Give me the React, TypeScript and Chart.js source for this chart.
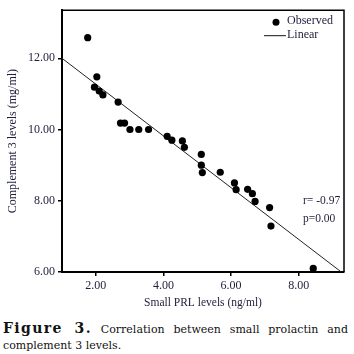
import React, { useEffect, useRef } from 'react';
import { Chart, registerables } from 'chart.js';
Chart.register(...registerables);

// Small PRL levels (ng/ml)
const prlLevels = [1.76, 2.03, 1.96, 2.10, 2.21, 2.66, 2.73, 2.85, 3.01, 3.27, 3.56, 4.11, 4.25, 4.56, 4.62, 5.12, 5.12, 5.15, 5.68, 6.10, 6.15, 6.49, 6.63, 6.71, 7.14, 7.18, 8.43];
// Complement 3 levels (mg/ml)
const c3Levels = [12.58, 11.48, 11.19, 11.08, 10.97, 10.77, 10.18, 10.18, 10.0, 10.0, 10.0, 9.81, 9.70, 9.68, 9.50, 9.30, 9.0, 8.79, 8.80, 8.50, 8.31, 8.32, 8.20, 7.98, 7.81, 7.29, 6.10];
// Linear fit line end points
const fitX = [1.0, 9.26];
const fitY = [12.0, 6.0];
const xTicks = [2, 4, 6, 8];
const yTicks = [6, 8, 10, 12];
const statsText = ['r= -0.97', 'p=0.00'];
const legendLabels = ['Observed', 'Linear'];

const SERIF = '"Liberation Serif", "Times New Roman", serif';
const TEXT = '#1e1e3c';

const overlayPlugin = {
  id: 'overlay',
  afterDraw(chart: any) {
    const { ctx, chartArea } = chart;
    const { left, right, top, bottom } = chartArea;
    ctx.save();
    // top and right border
    ctx.strokeStyle = '#000';
    ctx.lineWidth = 1.5;
    ctx.beginPath();
    ctx.moveTo(left, top);
    ctx.lineTo(right, top);
    ctx.lineTo(right, bottom);
    ctx.stroke();
    // legend
    ctx.fillStyle = '#000';
    ctx.beginPath();
    ctx.arc(right - 68, top + 12, 3.5, 0, Math.PI * 2);
    ctx.fill();
    ctx.strokeStyle = '#111';
    ctx.lineWidth = 1;
    ctx.beginPath();
    ctx.moveTo(right - 80, top + 25.5);
    ctx.lineTo(right - 58, top + 25.5);
    ctx.stroke();
    ctx.font = '12px ' + SERIF;
    ctx.fillStyle = TEXT;
    ctx.textBaseline = 'middle';
    ctx.textAlign = 'left';
    ctx.fillText(legendLabels[0], right - 57, top + 11);
    ctx.fillText(legendLabels[1], right - 57, top + 25);
    // stats
    ctx.font = '11.5px ' + SERIF;
    ctx.fillText(statsText[0], right - 41, 201);
    ctx.fillText(statsText[1], right - 41, 219);
    ctx.restore();
  },
};

function ChartView() {
  const ref = useRef<HTMLCanvasElement | null>(null);
  useEffect(() => {
    if (!ref.current) return;
    const chart = new Chart(ref.current, {
      type: 'scatter',
      data: {
        datasets: [
          {
            label: legendLabels[0],
            data: prlLevels.map((x, i) => ({ x, y: c3Levels[i] })),
            backgroundColor: '#000',
            borderColor: '#000',
            pointRadius: 3.6,
            pointHoverRadius: 3.6,
            borderWidth: 0,
          },
          {
            label: legendLabels[1],
            type: 'line',
            data: fitX.map((x, i) => ({ x, y: fitY[i] })),
            borderColor: '#222',
            borderWidth: 1,
            pointRadius: 0,
            fill: false,
          } as any,
        ],
      },
      options: {
        animation: false,
        responsive: false,
        devicePixelRatio: 1,
        layout: { padding: { top: 4, right: 10, left: 0, bottom: 2 } },
        plugins: { legend: { display: false }, tooltip: { enabled: false } },
        scales: {
          x: {
            type: 'linear',
            min: 1.0,
            max: 9.34,
            afterBuildTicks: (s: any) => { s.ticks = xTicks.map((v) => ({ value: v })); },
            afterFit: (s: any) => { s.height = 38; },
            border: { display: true, color: '#000', width: 2 },
            grid: { display: true, drawOnChartArea: false, drawTicks: true, tickLength: 4, color: '#000', lineWidth: 1.5 },
            ticks: {
              padding: 3,
              color: TEXT,
              font: { family: SERIF, size: 12 },
              callback: (v: any) => Number(v).toFixed(2),
            },
            title: {
              display: true,
              text: 'Small PRL levels (ng/ml)',
              color: TEXT,
              font: { family: SERIF, size: 11.5 },
              padding: { top: 0, bottom: 0 },
            },
          },
          y: {
            type: 'linear',
            min: 6,
            max: 13.35,
            afterBuildTicks: (s: any) => { s.ticks = yTicks.map((v) => ({ value: v })); },
            afterFit: (s: any) => { s.width = 62; },
            border: { display: true, color: '#000', width: 2 },
            grid: { display: true, drawOnChartArea: false, drawTicks: true, tickLength: 4, color: '#000', lineWidth: 1.5 },
            ticks: {
              padding: 3,
              color: TEXT,
              font: { family: SERIF, size: 12 },
              callback: (v: any) => Number(v).toFixed(2),
            },
            title: {
              display: true,
              text: 'Complement 3 levels (mg/ml)',
              color: TEXT,
              font: { family: SERIF, size: 12 },
              padding: { top: 6, bottom: 0 },
            },
          },
        },
      },
      plugins: [overlayPlugin],
    });
    return () => chart.destroy();
  }, []);
  return <canvas ref={ref} width={354} height={312} style={{ width: 354, height: 312, display: 'block' }} />;
}

export default function App() {
  return (
    <div style={{ position: 'fixed', left: 0, top: 0, width: 354, height: 354, background: '#fff', overflow: 'hidden' }}>
      <ChartView />
      <div
        style={{
          position: 'absolute',
          left: 3,
          top: 321,
          width: 345,
          fontFamily: '"DejaVu Serif", serif',
          fontSize: 11,
          lineHeight: '15.5px',
          color: '#111',
          textAlign: 'justify',
          textAlignLast: 'left',
        }}
      >
        <span style={{ fontWeight: 'bold', fontSize: 14, letterSpacing: 1.4 }}>Figure 3.</span> Correlation between small prolactin and complement 3 levels.
      </div>
    </div>
  );
}
